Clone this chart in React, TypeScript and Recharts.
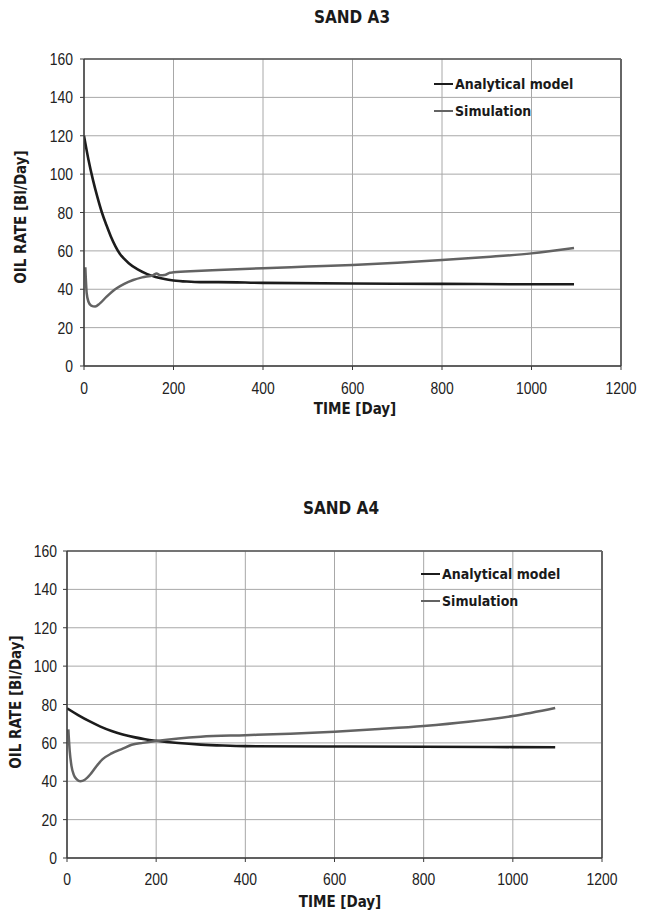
import { LineChart, Line, XAxis, YAxis, CartesianGrid, Legend, ReferenceLine } from "recharts";

// SAND A3
const a3AnalyticalDays = [0, 10, 20, 30, 40, 50, 60, 70, 80, 90, 100, 120, 140, 160, 180, 200, 230, 260, 300, 400, 600, 800, 1000, 1095];
const a3AnalyticalRate = [120, 107.5, 97, 88, 80, 73.5, 67.5, 62.5, 58.5, 55.8, 53.6, 50.3, 48, 46.4, 45.3, 44.6, 44, 43.7, 43.7, 43.3, 43, 42.8, 42.6, 42.6];
const a3SimDays = [3, 6, 10, 16, 25, 35, 50, 73, 90, 110, 130, 155, 162, 170, 180, 192, 200, 250, 300, 400, 500, 600, 700, 800, 900, 1000, 1095];
const a3SimRate = [51.5, 38, 33.5, 31.5, 31, 32.5, 36, 40.5, 42.8, 44.8, 46.2, 47.4, 48.2, 47.3, 47.4, 48.6, 48.8, 49.5, 50, 51, 51.8, 52.6, 53.8, 55.2, 56.8, 58.7, 61.5];

// SAND A4
const a4AnalyticalDays = [0, 25, 50, 75, 100, 125, 150, 175, 200, 250, 300, 350, 400, 600, 800, 1000, 1095];
const a4AnalyticalRate = [78, 74.5, 71.3, 68.5, 66.2, 64.4, 63, 61.9, 61.1, 59.9, 59.1, 58.6, 58.3, 58.1, 58, 57.8, 57.7];
const a4SimDays = [3, 6, 10, 15, 22, 30, 40, 52, 65, 80, 100, 125, 145, 170, 200, 250, 300, 400, 500, 600, 700, 800, 900, 1000, 1095];
const a4SimRate = [67, 56, 48, 43.5, 41, 40, 40.8, 43.5, 47.5, 51.5, 54.5, 57, 59, 60, 61, 62.3, 63.2, 64, 64.8, 65.8, 67.2, 68.8, 71, 74, 78.2];

const xTicks = [0, 200, 400, 600, 800, 1000, 1200];
const yTicks = [0, 20, 40, 60, 80, 100, 120, 140, 160];

const TICK_FONT = '"Liberation Sans", Arial, sans-serif';
const BOLD_FONT = '"DejaVu Sans Condensed", "DejaVu Sans", Tahoma, sans-serif';

const zip = (days: number[], rates: number[]) => days.map((t, i) => ({ t, v: rates[i] }));

interface PanelLayout {
  top: number;
  height: number;
  plotLeft: number;
  plotRight: number;
  plotTop: number;
  plotBottom: number;
  titleX: number;
  titleY: number;
  xLabelX: number;
  xLabelY: number;
  yLabelX: number;
  yLabelY: number;
  legendLeft: number;
  legendTop: number;
  yTickMargin: number;
  xTickMargin: number;
}

const Y_AXIS_W = 60;
const X_AXIS_H = 40;

// narrow-looking tick labels (the original uses an Arial Narrow style face)
function NarrowTick({ x, y, payload, textAnchor, verticalAnchor }: any) {
  return (
    <text
      transform={`translate(${x},${y}) scale(0.82,1)`}
      textAnchor={textAnchor}
      dy={verticalAnchor === "start" ? "0.71em" : "0.355em"}
      fontFamily={TICK_FONT}
      fontSize={17}
      fill="#222"
    >
      {payload.value}
    </text>
  );
}

function LegendBox({ payload }: any) {
  return (
    <div>
      {(payload || []).map((entry: any) => (
        <div key={entry.value} style={{ display: "flex", alignItems: "center", height: 27 }}>
          <span style={{ display: "inline-block", width: 19, height: 2, background: entry.color, marginRight: 2 }} />
          <span style={{ fontFamily: BOLD_FONT, fontWeight: "bold", fontSize: 14, color: "#1a1a1a" }}>{entry.value}</span>
        </div>
      ))}
    </div>
  );
}

function Panel({ title, analytical, simulation, l }: { title: string; analytical: any[]; simulation: any[]; l: PanelLayout }) {
  const labelStyle: React.CSSProperties = {
    position: "absolute",
    fontFamily: BOLD_FONT,
    fontWeight: "bold",
    color: "#1a1a1a",
    whiteSpace: "nowrap",
    transform: "translate(-50%, -50%)",
  };
  return (
    <div style={{ position: "absolute", left: 0, top: l.top, width: 646, height: l.height }}>
      <LineChart
        width={646}
        height={l.height}
        margin={{
          top: l.plotTop,
          left: l.plotLeft - Y_AXIS_W,
          right: 646 - l.plotRight,
          bottom: l.height - l.plotBottom - X_AXIS_H,
        }}
      >
        <CartesianGrid stroke="#a8a8a8" strokeWidth={1} />
        <XAxis
          dataKey="t"
          type="number"
          domain={[0, 1200]}
          ticks={xTicks}
          height={X_AXIS_H}
          tickSize={4}
          tickMargin={l.xTickMargin}
          axisLine={{ stroke: "#3a3a3a", strokeWidth: 1.5 }}
          tickLine={{ stroke: "#3a3a3a" }}
          tick={<NarrowTick />}
          allowDataOverflow
        />
        <YAxis
          type="number"
          domain={[0, 160]}
          ticks={yTicks}
          width={Y_AXIS_W}
          tickSize={4}
          tickMargin={l.yTickMargin}
          axisLine={{ stroke: "#3a3a3a", strokeWidth: 1.5 }}
          tickLine={{ stroke: "#3a3a3a" }}
          tick={<NarrowTick />}
          allowDataOverflow
        />
        <ReferenceLine y={160} stroke="#555" strokeWidth={1.5} />
        <ReferenceLine x={1200} stroke="#666" strokeWidth={2} />
        <Legend
          layout="vertical"
          align="center"
          verticalAlign="middle"
          content={<LegendBox />}
          wrapperStyle={{ top: l.legendTop, left: l.legendLeft, width: 200 }}
        />
        <Line
          data={analytical}
          dataKey="v"
          name="Analytical model"
          type="monotone"
          stroke="#1c1c1c"
          strokeWidth={2.6}
          dot={false}
          isAnimationActive={false}
        />
        <Line
          data={simulation}
          dataKey="v"
          name="Simulation"
          type="monotone"
          stroke="#636363"
          strokeWidth={2.5}
          dot={false}
          isAnimationActive={false}
        />
      </LineChart>
      <div style={{ ...labelStyle, left: l.titleX, top: l.titleY, fontSize: 17 }}>{title}</div>
      <div style={{ ...labelStyle, left: l.xLabelX, top: l.xLabelY, fontSize: 15 }}>TIME [Day]</div>
      <div style={{ ...labelStyle, left: l.yLabelX, top: l.yLabelY, fontSize: 15, transform: "translate(-50%, -50%) rotate(-90deg)" }}>
        OIL RATE [Bl/Day]
      </div>
    </div>
  );
}

const layoutA3: PanelLayout = {
  top: 0,
  height: 430,
  plotLeft: 84,
  plotRight: 621,
  plotTop: 59,
  plotBottom: 366,
  titleX: 352,
  titleY: 17,
  xLabelX: 355,
  xLabelY: 409,
  yLabelX: 20.5,
  yLabelY: 217,
  legendLeft: 434,
  legendTop: 70.5,
  yTickMargin: 7,
  xTickMargin: 12,
};

const layoutA4: PanelLayout = {
  top: 480,
  height: 433,
  plotLeft: 67,
  plotRight: 602,
  plotTop: 71,
  plotBottom: 378,
  titleX: 341,
  titleY: 27.7,
  xLabelX: 340,
  xLabelY: 421.7,
  yLabelX: 16,
  yLabelY: 222,
  legendLeft: 421,
  legendTop: 80.5,
  yTickMargin: 6,
  xTickMargin: 11,
};

export default function App() {
  return (
    <div style={{ position: "absolute", left: 0, top: 0, width: 646, height: 913, background: "#fff" }}>
      <Panel title="SAND A3" analytical={zip(a3AnalyticalDays, a3AnalyticalRate)} simulation={zip(a3SimDays, a3SimRate)} l={layoutA3} />
      <Panel title="SAND A4" analytical={zip(a4AnalyticalDays, a4AnalyticalRate)} simulation={zip(a4SimDays, a4SimRate)} l={layoutA4} />
    </div>
  );
}
